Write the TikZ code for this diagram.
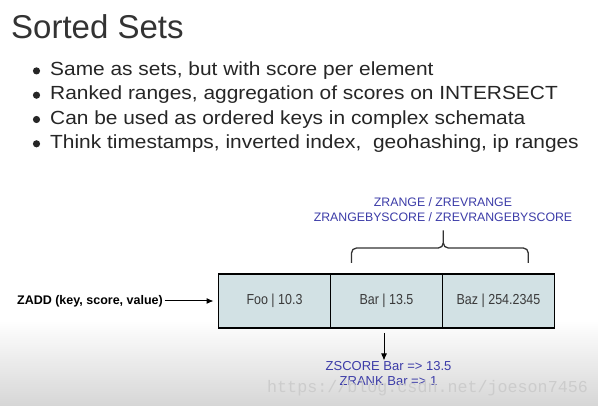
\documentclass[tikz,border=0pt]{standalone}
\usepackage{fontspec}
\setmainfont{Liberation Sans}
\newfontfamily\narrowfont[FakeStretch=0.86]{Liberation Sans}
\newfontfamily\widefont[FakeStretch=1.1]{Liberation Sans}
\newfontfamily\wmfont{Liberation Mono}
\usetikzlibrary{arrows.meta}
\definecolor{titlegray}{HTML}{333333}
\definecolor{bodygray}{HTML}{262626}
\definecolor{cellfill}{HTML}{D2E1E4}
\definecolor{celltext}{HTML}{3A3A3A}
\definecolor{cmdblue}{HTML}{3C3CA8}
\definecolor{bgbottom}{HTML}{D6D6D6}
\definecolor{wmgray}{HTML}{CCCCCC}
\tikzset{
  bullettext/.style={anchor=base west, inner sep=0pt, text=bodygray, font=\widefont\fontsize{19}{23}\selectfont},
  bulletdot/.style={fill=bodygray},
  cell/.style={draw=black, line width=1.4pt, fill=cellfill, minimum width=112pt, minimum height=54pt, inner sep=0pt, text=celltext, font=\narrowfont\fontsize{14.5}{17}\selectfont, outer sep=0pt},
  cmdtext/.style={text=cmdblue, align=center, inner sep=1pt},
  conn/.style={draw=black, line width=1pt, -{Latex[length=7pt,width=6pt]}},
  bracepath/.style={draw=black!80, line width=1.3pt, line join=round}
}
\begin{document}
\begin{tikzpicture}[x=1pt,y=-1pt]
\useasboundingbox (0,0) rectangle (598,406);
% background
\fill[white] (0,0) rectangle (598,320);
\shade[top color=white, bottom color=bgbottom] (0,320) rectangle (598,406);

% title
\node[anchor=base west, inner sep=0pt, text=titlegray, font=\fontsize{33}{40}\selectfont] (title) at (11,39) {Sorted Sets};

% bullets
\foreach \i/\y/\t in {1/75.7/{Same as sets, but with score per element},
                      2/100/{Ranked ranges, aggregation of scores on INTERSECT},
                      3/124.3/{Can be used as ordered keys in complex schemata},
                      4/148.6/{Think timestamps, inverted index,\ \ geohashing, ip ranges}} {
  \fill[bulletdot] (36.5,\y-4.8) circle (3.6);
  \node[bullettext] (b\i) at (50,\y) {\t};
}

% cells
\node[cell] (foo) at (274.5,301) {Foo | 10.3};
\node[cell, anchor=west] (bar) at (foo.east) {Bar | 13.5};
\node[cell, anchor=west] (baz) at (bar.east) {Baz | 254.2345};

% ZADD
\node[anchor=east, inner sep=0pt, font=\bfseries\fontsize{12.5}{15}\selectfont, text=black] (zadd) at (163,301) {ZADD (key, score, value)};
\draw[conn] (zadd.east) ++(1.5,0) -- ([xshift=-5pt]foo.west);

% range commands
\node[cmdtext, font=\fontsize{12.3}{15}\selectfont] (zrange) at (443,210) {ZRANGE / ZREVRANGE\\ZRANGEBYSCORE / ZREVRANGEBYSCORE};

% brace
\coordinate (brl) at (351.5,263);
\coordinate (brr) at (528.3,263);
\coordinate (brtip) at (443.3,230.5);
\draw[bracepath] (brl) -- (351.5,253) to[out=90,in=180] (356.5,248) -- (438.3,248)
   to[out=0,in=-90] (brtip |- 0,243) -- (brtip);
\draw[bracepath] (brtip |- 0,243) to[out=-90,in=180] (448.3,248) -- (523.3,248)
   to[out=0,in=90] (528.3,253) -- (brr);

% score commands
\node[cmdtext, font=\fontsize{13}{14.5}\selectfont, anchor=north] (zscore) at (388.5,360.5) {ZSCORE Bar => 13.5\\ZRANK Bar => 1};
\draw[conn] ([xshift=-2.5pt,yshift=-5pt]bar.south) -- ([xshift=-4.5pt]zscore.north);

% watermark
\node[anchor=base west, inner sep=0pt, text=wmgray, font=\wmfont\fontsize{16.7}{20}\selectfont] (wm) at (267,392.5) {https://blog.csdn.net/joeson7456};
\end{tikzpicture}
\end{document}
